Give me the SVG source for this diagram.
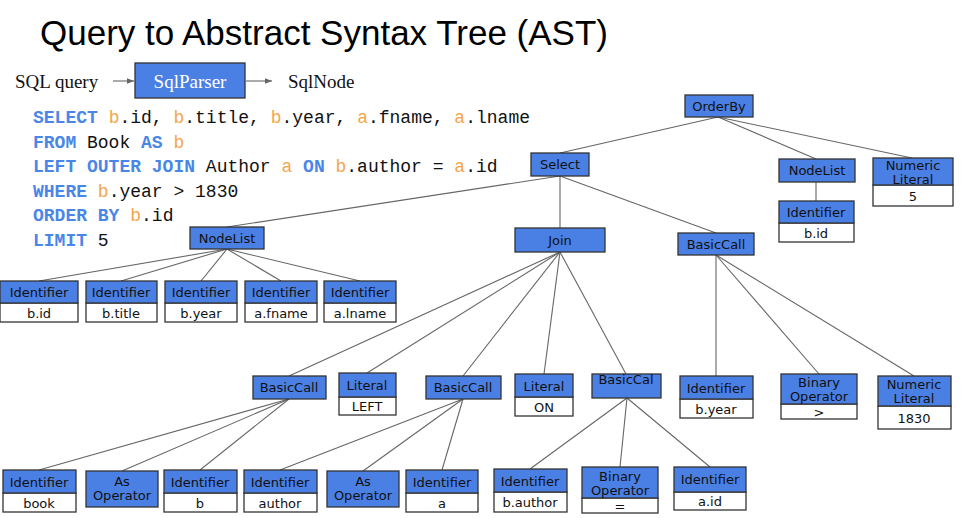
<svg xmlns="http://www.w3.org/2000/svg" width="962" height="518" viewBox="0 0 962 518">
<defs>
<style>
.hd{fill:#4a7fe4;stroke:#333;stroke-width:1.3}
.vb{fill:#fff;stroke:#333;stroke-width:1.3}
.t{font-family:"DejaVu Sans",Verdana,sans-serif;font-size:13px;fill:#111;text-anchor:middle}
.c{stroke:#666;stroke-width:1.1;fill:none}
.code{font-family:"Liberation Mono","DejaVu Sans Mono",monospace;font-size:18px;fill:#111}
.k{fill:#4a86e8;font-weight:bold}
.o{fill:#f4a64a}
.s{font-family:"Liberation Serif","Times New Roman",serif;font-size:19px;fill:#111}
</style>
<marker id="ah" viewBox="0 0 10 10" refX="10" refY="5" markerWidth="7" markerHeight="7" orient="auto" markerUnits="userSpaceOnUse">
<path d="M0,1 L10,5 L0,9 z" fill="#666"/>
</marker>
</defs>
<rect width="962" height="518" fill="#fff"/>
<text x="40" y="45" font-family="Liberation Sans,Arial,sans-serif" font-size="35" fill="#000">Query to Abstract Syntax Tree (AST)</text>

<g id="pipeline">
<text class="s" x="15" y="88">SQL query</text>
<line class="c" x1="113" y1="81" x2="134" y2="81" marker-end="url(#ah)"/>
<rect x="135" y="63" width="110" height="35" fill="#4a7fe4" stroke="#333" stroke-width="1.3"/>
<text class="s" x="190" y="88" text-anchor="middle" style="fill:#fff">SqlParser</text>
<line class="c" x1="246" y1="81" x2="272" y2="81" marker-end="url(#ah)"/>
<text class="s" x="288" y="88">SqlNode</text>
</g>

<g id="code" class="code">
<text x="33" y="123"><tspan class="k">SELECT</tspan> <tspan class="o">b</tspan>.id, <tspan class="o">b</tspan>.title, <tspan class="o">b</tspan>.year, <tspan class="o">a</tspan>.fname, <tspan class="o">a</tspan>.lname</text>
<text x="33" y="148"><tspan class="k">FROM</tspan> Book <tspan class="k">AS</tspan> <tspan class="o">b</tspan></text>
<text x="33" y="172"><tspan class="k">LEFT OUTER JOIN</tspan> Author <tspan class="o">a</tspan> <tspan class="k">ON</tspan> <tspan class="o">b</tspan>.author = <tspan class="o">a</tspan>.id</text>
<text x="33" y="197"><tspan class="k">WHERE</tspan> <tspan class="o">b</tspan>.year &gt; 1830</text>
<text x="33" y="221"><tspan class="k">ORDER BY</tspan> <tspan class="o">b</tspan>.id</text>
<text x="33" y="246"><tspan class="k">LIMIT</tspan> 5</text>
</g>

<g id="connectors">
<line class="c" x1="718" y1="117" x2="560" y2="153"/>
<line class="c" x1="718" y1="117" x2="816" y2="159"/>
<line class="c" x1="718" y1="117" x2="912" y2="158"/>
<line class="c" x1="816" y1="182" x2="816" y2="201"/>
<line class="c" x1="560" y1="176" x2="227" y2="227"/>
<line class="c" x1="560" y1="176" x2="560" y2="228"/>
<line class="c" x1="560" y1="176" x2="716" y2="233"/>
<line class="c" x1="227" y1="249" x2="39" y2="281"/>
<line class="c" x1="227" y1="249" x2="121" y2="281"/>
<line class="c" x1="227" y1="249" x2="201" y2="281"/>
<line class="c" x1="227" y1="249" x2="281" y2="281"/>
<line class="c" x1="227" y1="249" x2="360" y2="281"/>
<line class="c" x1="560" y1="252" x2="289" y2="376"/>
<line class="c" x1="560" y1="252" x2="367" y2="373"/>
<line class="c" x1="560" y1="252" x2="463" y2="376"/>
<line class="c" x1="560" y1="252" x2="544" y2="374"/>
<line class="c" x1="560" y1="252" x2="626" y2="374"/>
<line class="c" x1="716" y1="255" x2="716" y2="376"/>
<line class="c" x1="716" y1="255" x2="819" y2="374"/>
<line class="c" x1="716" y1="255" x2="914" y2="376"/>
<line class="c" x1="289" y1="399" x2="39" y2="470"/>
<line class="c" x1="289" y1="399" x2="122" y2="471"/>
<line class="c" x1="289" y1="399" x2="200" y2="470"/>
<line class="c" x1="463" y1="399" x2="280" y2="470"/>
<line class="c" x1="463" y1="399" x2="363" y2="471"/>
<line class="c" x1="463" y1="399" x2="442" y2="470"/>
<line class="c" x1="627" y1="390" x2="627" y2="398"/>
<line class="c" x1="627" y1="398" x2="530" y2="469"/>
<line class="c" x1="627" y1="398" x2="620" y2="467"/>
<line class="c" x1="627" y1="398" x2="710" y2="467"/>
</g>

<g id="orderby"><rect class="hd" x="685" y="95" width="68" height="22"/><text class="t" x="719" y="111">OrderBy</text></g>
<g id="nodelist-r"><rect class="hd" x="779" y="159" width="76" height="23"/><text class="t" x="817" y="175">NodeList</text></g>
<g id="ident-bid-r"><rect class="vb" x="779" y="223" width="75" height="19"/><rect class="hd" x="779" y="201" width="75" height="22"/><text class="t" x="816" y="217">Identifier</text><text class="t" x="816" y="238">b.id</text></g>
<g id="numlit-5"><rect class="vb" x="873" y="185" width="80" height="21"/><rect class="hd" x="873" y="158" width="80" height="27"/><text class="t" x="913" y="170">Numeric</text><text class="t" x="913" y="184">Literal</text><text class="t" x="913" y="201">5</text></g>

<g id="select"><rect class="hd" x="531" y="153" width="58" height="23"/><text class="t" x="560" y="169">Select</text></g>
<g id="nodelist-l"><rect class="hd" x="190" y="227" width="74" height="22"/><text class="t" x="227" y="243">NodeList</text></g>
<g id="join"><rect class="hd" x="515" y="228" width="90" height="24"/><text class="t" x="560" y="245">Join</text></g>
<g id="basiccall-r"><rect class="hd" x="678" y="233" width="76" height="22"/><text class="t" x="716" y="249">BasicCall</text></g>

<g id="id-bid"><rect class="vb" x="0" y="303" width="78" height="19"/><rect class="hd" x="0" y="281" width="78" height="22"/><text class="t" x="39" y="297">Identifier</text><text class="t" x="39" y="318">b.id</text></g>
<g id="id-btitle"><rect class="vb" x="86" y="303" width="71" height="19"/><rect class="hd" x="86" y="281" width="71" height="22"/><text class="t" x="121" y="297">Identifier</text><text class="t" x="121" y="318">b.title</text></g>
<g id="id-byear"><rect class="vb" x="165" y="303" width="72" height="19"/><rect class="hd" x="165" y="281" width="72" height="22"/><text class="t" x="201" y="297">Identifier</text><text class="t" x="201" y="318">b.year</text></g>
<g id="id-afname"><rect class="vb" x="245" y="303" width="72" height="19"/><rect class="hd" x="245" y="281" width="72" height="22"/><text class="t" x="281" y="297">Identifier</text><text class="t" x="281" y="318">a.fname</text></g>
<g id="id-alname"><rect class="vb" x="324" y="303" width="72" height="19"/><rect class="hd" x="324" y="281" width="72" height="22"/><text class="t" x="360" y="297">Identifier</text><text class="t" x="360" y="318">a.lname</text></g>

<g id="basiccall-1"><rect class="hd" x="253" y="376" width="73" height="23"/><text class="t" x="289" y="392">BasicCall</text></g>
<g id="literal-left"><rect class="vb" x="339" y="397" width="57" height="18"/><rect class="hd" x="339" y="373" width="57" height="24"/><text class="t" x="367" y="390">Literal</text><text class="t" x="367" y="411">LEFT</text></g>
<g id="basiccall-2"><rect class="hd" x="426" y="376" width="75" height="23"/><text class="t" x="463" y="392">BasicCall</text></g>
<g id="literal-on"><rect class="vb" x="515" y="397" width="58" height="19"/><rect class="hd" x="515" y="374" width="58" height="23"/><text class="t" x="544" y="391">Literal</text><text class="t" x="544" y="412">ON</text></g>
<g id="basiccal-3"><rect class="hd" x="592" y="374" width="69" height="24"/><text class="t" x="626" y="384">BasicCal</text></g>
<g id="id-byear-2"><rect class="vb" x="680" y="399" width="73" height="19"/><rect class="hd" x="680" y="376" width="73" height="23"/><text class="t" x="716" y="393">Identifier</text><text class="t" x="716" y="414">b.year</text></g>
<g id="binop-gt"><rect class="vb" x="781" y="404" width="76" height="15"/><rect class="hd" x="781" y="374" width="76" height="30"/><text class="t" x="819" y="387">Binary</text><text class="t" x="819" y="401">Operator</text><text class="t" x="819" y="417">&gt;</text></g>
<g id="numlit-1830"><rect class="vb" x="878" y="406" width="73" height="23"/><rect class="hd" x="878" y="376" width="73" height="30"/><text class="t" x="914" y="389">Numeric</text><text class="t" x="914" y="403">Literal</text><text class="t" x="914" y="423">1830</text></g>

<g id="id-book"><rect class="vb" x="3" y="493" width="73" height="19"/><rect class="hd" x="3" y="470" width="73" height="23"/><text class="t" x="39" y="487">Identifier</text><text class="t" x="39" y="508">book</text></g>
<g id="asop-1"><rect class="hd" x="86" y="471" width="72" height="36"/><text class="t" x="122" y="486">As</text><text class="t" x="122" y="500">Operator</text></g>
<g id="id-b"><rect class="vb" x="164" y="493" width="73" height="19"/><rect class="hd" x="164" y="470" width="73" height="23"/><text class="t" x="200" y="487">Identifier</text><text class="t" x="200" y="508">b</text></g>
<g id="id-author"><rect class="vb" x="244" y="493" width="73" height="19"/><rect class="hd" x="244" y="470" width="73" height="23"/><text class="t" x="280" y="487">Identifier</text><text class="t" x="280" y="508">author</text></g>
<g id="asop-2"><rect class="hd" x="327" y="471" width="72" height="36"/><text class="t" x="363" y="486">As</text><text class="t" x="363" y="500">Operator</text></g>
<g id="id-a"><rect class="vb" x="406" y="493" width="72" height="19"/><rect class="hd" x="406" y="470" width="72" height="23"/><text class="t" x="442" y="487">Identifier</text><text class="t" x="442" y="508">a</text></g>
<g id="id-bauthor"><rect class="vb" x="494" y="492" width="73" height="20"/><rect class="hd" x="494" y="469" width="73" height="23"/><text class="t" x="530" y="486">Identifier</text><text class="t" x="530" y="507">b.author</text></g>
<g id="binop-eq"><rect class="vb" x="582" y="498" width="76" height="15"/><rect class="hd" x="582" y="467" width="76" height="31"/><text class="t" x="620" y="481">Binary</text><text class="t" x="620" y="495">Operator</text><text class="t" x="620" y="511">=</text></g>
<g id="id-aid"><rect class="vb" x="674" y="492" width="72" height="18"/><rect class="hd" x="674" y="467" width="72" height="25"/><text class="t" x="710" y="484">Identifier</text><text class="t" x="710" y="506">a.id</text></g>
</svg>
